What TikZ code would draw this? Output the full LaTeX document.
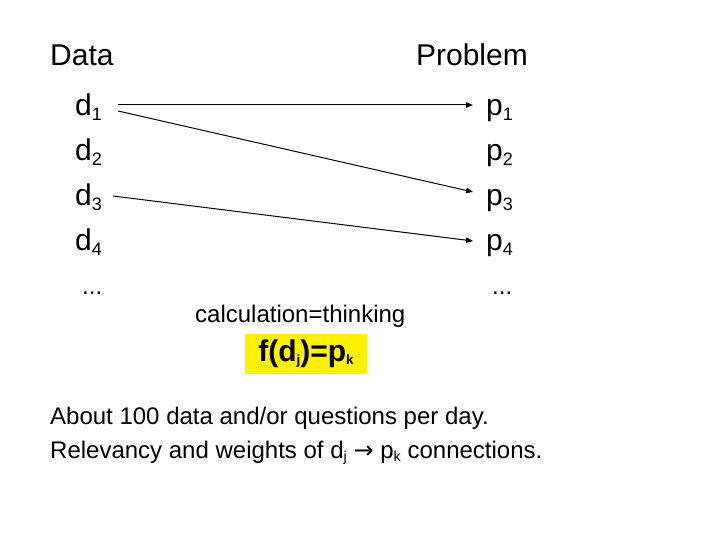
\documentclass[tikz,border=0pt]{standalone}
\usepackage{fontspec}
\setmainfont{Liberation Sans}
\newfontfamily\arrowfont{DejaVu Sans}
\usetikzlibrary{arrows.meta}
\newcommand{\largetxt}{\fontsize{30}{36}\selectfont}
\newcommand{\smalltxt}{\fontsize{24}{29}\selectfont}
\newcommand{\sbs}[1]{\raisebox{-0.14em}{\scalebox{0.6}{#1}}}
\newcommand{\tinysbs}[1]{\raisebox{-0.08em}{\scalebox{0.45}{#1}}}
\tikzset{
  lbl/.style={inner sep=0pt, font=\largetxt},
  sml/.style={inner sep=0pt, font=\smalltxt},
  link/.style={line width=1pt, -{Triangle[length=7pt,width=5.5pt]}}
}

\begin{document}
\begin{tikzpicture}[x=1pt, y=-1pt]
\useasboundingbox (0,0) rectangle (720,540);
\node[lbl, anchor=base west] (data)at(50, 66) {Data};
\node[lbl, anchor=base east] (problem)at(528, 66) {Problem};
\node[lbl, anchor=base west] (d1)at(75, 116) {d\sbs{1}};
\node[lbl, anchor=base west] (d2)at(75, 161) {d\sbs{2}};
\node[lbl, anchor=base west] (d3)at(75, 206) {d\sbs{3}};
\node[lbl, anchor=base west] (d4)at(75, 251) {d\sbs{4}};
\node[lbl, anchor=base west] (p1)at(486, 116) {p\sbs{1}};
\node[lbl, anchor=base west] (p2)at(486, 161) {p\sbs{2}};
\node[lbl, anchor=base west] (p3)at(486, 206) {p\sbs{3}};
\node[lbl, anchor=base west] (p4)at(486, 251) {p\sbs{4}};
\node[sml, anchor=base west] (ddots)at(82, 294) {...};
\node[sml, anchor=base west] (pdots)at(492, 294) {...};
\node[sml, anchor=base west] (calc)at(195, 322) {calculation=thinking};
\node[fill=yellow, minimum width=122pt, minimum height=40pt, inner sep=0pt, font=\largetxt\bfseries] (func)at(306, 354) {f(d\tinysbs{j})=p\tinysbs{k}};
\node[sml, anchor=base west] (about)at(50, 424) {About 100 data and/or questions per day.};
\node[sml, anchor=base west] (relev)at(50, 458) {Relevancy and weights of d\sbs{j} {\arrowfont →} p\sbs{k} connections.};
\draw[link] ([xshift=16pt, yshift=11pt]d1.base east) -- ([xshift=-13pt, yshift=11pt]p1.base west);
\draw[link] ([xshift=16pt, yshift=5pt]d1.base east) -- ([xshift=-13pt, yshift=14pt]p3.base west);
\draw[link] ([xshift=11pt, yshift=10pt]d3.base east) -- ([xshift=-13pt, yshift=10pt]p4.base west);
\end{tikzpicture}
\end{document}
